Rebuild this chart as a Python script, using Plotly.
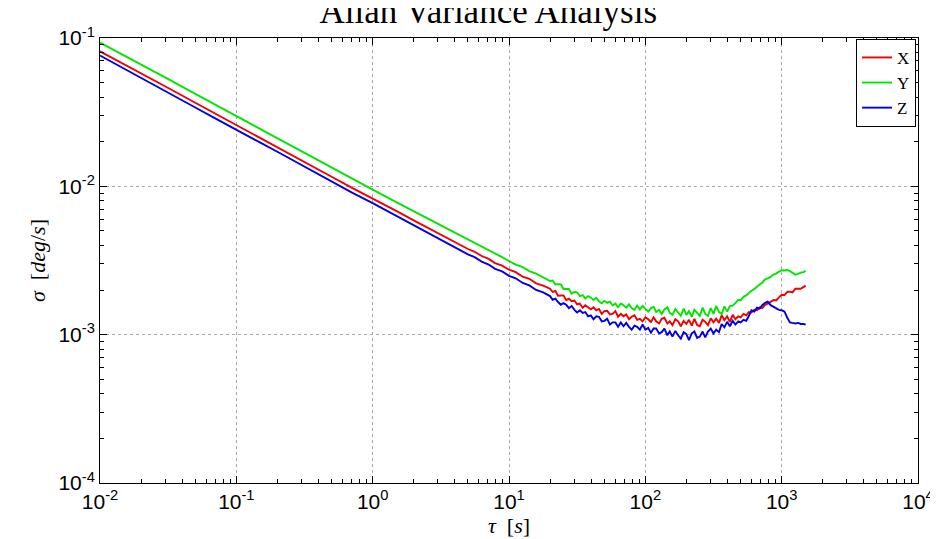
import plotly.graph_objects as go

tau = [0.01, 0.015, 0.02, 0.03, 0.05, 0.07, 0.1, 0.15, 0.2, 0.3, 0.5, 0.7, 1, 1.5, 2, 3,
       4, 4.5, 5, 5.6, 6.3, 7.1, 7.9, 8.9, 10, 11.2, 12.6, 14.1, 15.8, 17.8,
       20, 20.9, 21.9, 22.9, 24.0, 25.1, 26.3, 27.5, 28.8, 30.2,
       31.6, 33.1, 34.7, 36.3, 38.0, 39.8, 41.7, 43.7, 45.7, 47.9,
       50.1, 52.5, 55.0, 57.5, 60.3, 63.1, 66.1, 69.2, 72.4, 75.9,
       79.4, 83.2, 87.1, 91.2, 95.5, 100, 105, 110, 115, 120,
       126, 132, 138, 145, 151, 158, 166, 174, 182, 191,
       200, 209, 219, 229, 240, 251, 263, 275, 288, 302,
       316, 331, 347, 363, 380, 398, 417, 437,
       458, 480, 500, 525, 550, 575, 600, 630, 660, 690,
       720, 755, 790, 830, 870, 910, 955, 1000, 1050, 1100,
       1150, 1200, 1260, 1320, 1380, 1450, 1500]

sigma_x = [0.0813, 0.0668, 0.0579, 0.0473, 0.0366, 0.031, 0.026, 0.0212, 0.0184, 0.0150, 0.0116, 0.0098, 0.0083, 0.0068, 0.0059, 0.00483,
           0.00422, 0.00400, 0.00378, 0.00362, 0.00339, 0.00324, 0.00304, 0.00292, 0.00274, 0.00264, 0.00246, 0.00238, 0.00222, 0.00214,
           0.00204, 0.00194, 0.00197, 0.00183, 0.00183, 0.00184, 0.00171, 0.00175, 0.00168, 0.00170,
           0.00160, 0.00162, 0.00152, 0.00158, 0.00153, 0.00148, 0.00153, 0.00146, 0.00149, 0.00138,
           0.00144, 0.00145, 0.00137, 0.00138, 0.00144, 0.00132, 0.00138, 0.00133, 0.00137, 0.00127,
           0.00132, 0.00135, 0.00126, 0.00128, 0.00123, 0.00131, 0.00127, 0.00122, 0.00131, 0.00123,
           0.00119, 0.00128, 0.00130, 0.00119, 0.00123, 0.00116, 0.00127, 0.00123, 0.00114, 0.00124,
           0.00118, 0.00126, 0.00115, 0.00128, 0.00116, 0.00114, 0.00126, 0.00122, 0.00116, 0.00129,
           0.00121, 0.00128, 0.00120, 0.00135, 0.00125, 0.00133, 0.00122, 0.00136,
           0.00127, 0.00133, 0.00131, 0.00138, 0.00135, 0.00142, 0.00141, 0.00147, 0.00146, 0.00153,
           0.00151, 0.00159, 0.00162, 0.00166, 0.00171, 0.00170, 0.00179, 0.00186, 0.00185, 0.00194,
           0.00195, 0.00193, 0.00204, 0.00205, 0.00204, 0.00210, 0.00214]

sigma_y = [0.093, 0.0765, 0.0663, 0.0542, 0.042, 0.0355, 0.0298, 0.0244, 0.0211, 0.0173, 0.0134, 0.0113, 0.0095, 0.0078, 0.0068, 0.0056,
           0.00492, 0.00462, 0.00442, 0.00415, 0.00396, 0.00370, 0.00356, 0.00333, 0.00314, 0.00297, 0.00285, 0.00268, 0.00258, 0.00242,
           0.00230, 0.00232, 0.00218, 0.00219, 0.00218, 0.00203, 0.00203, 0.00203, 0.00189, 0.00194,
           0.00193, 0.00182, 0.00185, 0.00175, 0.00182, 0.00178, 0.00171, 0.00177, 0.00168, 0.00163,
           0.00169, 0.00164, 0.00167, 0.00158, 0.00162, 0.00153, 0.00162, 0.00158, 0.00152, 0.00160,
           0.00151, 0.00147, 0.00157, 0.00148, 0.00156, 0.00150, 0.00143, 0.00151, 0.00154, 0.00142,
           0.00147, 0.00138, 0.00148, 0.00153, 0.00140, 0.00136, 0.00149, 0.00141, 0.00134, 0.00150,
           0.00136, 0.00144, 0.00132, 0.00147, 0.00141, 0.00134, 0.00152, 0.00138, 0.00134, 0.00151,
           0.00138, 0.00156, 0.00142, 0.00138, 0.00155, 0.00143, 0.00156, 0.00157,
           0.00163, 0.00172, 0.00170, 0.00180, 0.00184, 0.00192, 0.00198, 0.00203, 0.00212, 0.00218,
           0.00224, 0.00236, 0.00240, 0.00245, 0.00254, 0.00258, 0.00266, 0.00272, 0.00271, 0.00273,
           0.00268, 0.00262, 0.00254, 0.00257, 0.00262, 0.00264, 0.00270]

sigma_z = [0.0762, 0.062, 0.0537, 0.0439, 0.034, 0.0287, 0.0242, 0.0197, 0.0171, 0.0139, 0.0108, 0.0091, 0.0077, 0.0063, 0.0055, 0.0045,
           0.00390, 0.00370, 0.00348, 0.00333, 0.00311, 0.00297, 0.00278, 0.00267, 0.00249, 0.00240, 0.00223, 0.00215, 0.00200, 0.00193,
           0.00182, 0.00172, 0.00175, 0.00166, 0.00159, 0.00163, 0.00159, 0.00151, 0.00156, 0.00147,
           0.00141, 0.00146, 0.00140, 0.00142, 0.00133, 0.00135, 0.00127, 0.00133, 0.00132, 0.00123,
           0.00124, 0.00128, 0.00117, 0.00121, 0.00121, 0.00113, 0.00121, 0.00114, 0.00120, 0.00113,
           0.00108, 0.00115, 0.00113, 0.00108, 0.00117, 0.00108, 0.00111, 0.00103, 0.00110, 0.00110,
           0.00102, 0.00104, 0.00110, 0.00099, 0.00105, 0.00097, 0.00106, 0.00099, 0.00094, 0.00104,
           0.00101, 0.00092, 0.00102, 0.00105, 0.00095, 0.00097, 0.00105, 0.00096, 0.00105, 0.00110,
           0.00102, 0.00108, 0.00104, 0.00118, 0.00112, 0.00122, 0.00114, 0.00124,
           0.00117, 0.00123, 0.00121, 0.00126, 0.00124, 0.00134, 0.00146, 0.00143, 0.00152, 0.00150,
           0.00158, 0.00164, 0.00167, 0.00158, 0.00154, 0.00150, 0.00147, 0.00146, 0.00143, 0.00130,
           0.00121, 0.00120, 0.00119, 0.00120, 0.00118, 0.00118, 0.00117]

series_names = ["X", "Y", "Z"]
series_colors = ["rgb(240,0,0)", "rgb(0,230,0)", "rgb(0,0,225)"]

x_tickvals = [0.01, 0.1, 1, 10, 100, 1000, 10000]
x_ticktext = ["10<sup>-2</sup>", "10<sup>-1</sup>", "10<sup>0</sup>", "10<sup>1</sup>",
              "10<sup>2</sup>", "10<sup>3</sup>", "10<sup>4</sup>"]
y_tickvals = [0.0001, 0.001, 0.01, 0.1]
y_ticktext = ["10<sup>-4</sup>", "10<sup>-3</sup>", "10<sup>-2</sup>", "10<sup>-1</sup>"]

fig = go.Figure()
for name, vals, col in zip(series_names, [sigma_x, sigma_y, sigma_z], series_colors):
    fig.add_trace(go.Scatter(x=tau, y=vals, mode="lines", name=name,
                             line=dict(color=col, width=1.9)))

axis_common = dict(
    showline=True, linecolor="black", linewidth=1, mirror="ticks",
    ticks="inside", ticklen=7, tickcolor="black",
    showgrid=True, gridcolor="rgb(170,170,170)", griddash="dot", gridwidth=1,
    zeroline=False,
    tickfont=dict(family="Liberation Sans, Arial, sans-serif", size=21, color="black"),
    minor=dict(dtick="D1", ticks="inside", ticklen=4, tickcolor="black", showgrid=False),
)

fig.update_xaxes(type="log", range=[-2, 4], tickvals=x_tickvals, ticktext=x_ticktext,
                 title=dict(text="<i>τ</i>  [<i>s</i>]", standoff=4,
                            font=dict(family="Liberation Serif, Times New Roman, serif", size=22, color="black")),
                 **axis_common)
fig.update_yaxes(type="log", range=[-4, -1], tickvals=y_tickvals, ticktext=y_ticktext,
                 title=dict(text="<i>σ</i>  [<i>deg</i>/<i>s</i>]", standoff=6,
                            font=dict(family="Liberation Serif, Times New Roman, serif", size=22, color="black")),
                 **axis_common)

fig.update_layout(
    width=938, height=539,
    margin=dict(l=92, r=24, t=30, b=64),
    paper_bgcolor="white", plot_bgcolor="white",
    title=dict(text="Allan Variance Analysis", x=0.512, xanchor="center",
               y=0.994, yanchor="middle",
               font=dict(family="Liberation Serif, Times New Roman, serif", size=35, color="black")),
    legend=dict(x=0.9976, xanchor="right", y=0.998, yanchor="top",
                bgcolor="white", bordercolor="black", borderwidth=1,
                font=dict(family="Liberation Serif, Times New Roman, serif", size=17, color="black"),
                itemwidth=30, tracegroupgap=0),
    showlegend=True,
)

fig.write_html("out.html")
